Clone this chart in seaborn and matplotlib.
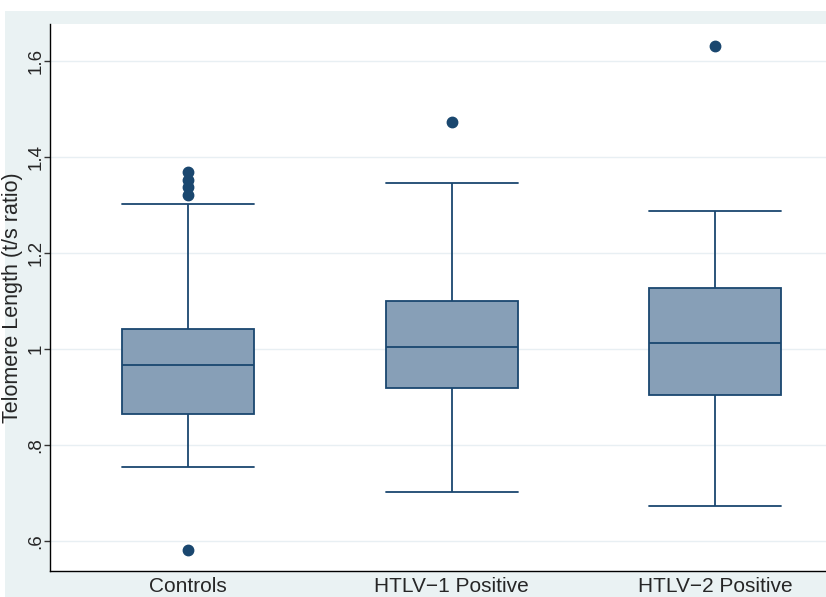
import numpy as np
import pandas as pd
import matplotlib.pyplot as plt
import seaborn as sns
from matplotlib.patches import Rectangle

# Box summaries (t/s ratio)
groups = ['Controls', 'HTLV\u22121 Positive', 'HTLV\u22122 Positive']
lower_whisker = [0.754, 0.702, 0.673]
q1 = [0.865, 0.919, 0.904]
median = [0.967, 1.004, 1.012]
q3 = [1.042, 1.100, 1.127]
upper_whisker = [1.302, 1.346, 1.287]
low_outliers = [[0.581], [], []]
high_outliers = [[1.321, 1.337, 1.352, 1.369], [1.473], [1.631]]

y_ticks = [0.6, 0.8, 1.0, 1.2, 1.4, 1.6]
y_tick_labels = ['.6', '.8', '1', '1.2', '1.4', '1.6']

NAVY = '#1a476f'
FILL = '#879fb7'
BG = '#eaf2f3'


def layout_values(i):
    """Arrange the read values so the box quartiles land on them."""
    low = low_outliers[i] + [lower_whisker[i]]
    high = [upper_whisker[i]] + high_outliers[i]
    k = max(len(low), len(high))
    low = low + [lower_whisker[i]] * (k - len(low))
    high = high + [upper_whisker[i]] * (k - len(high))
    return low + [q1[i]] + [median[i]] * k + [q3[i]] * k + high


rows = []
for i, g in enumerate(groups):
    for v in layout_values(i):
        rows.append({'group': g, 'value': v})
df = pd.DataFrame(rows)

sns.set_style('white')
plt.rcParams['font.family'] = ['Liberation Sans', 'DejaVu Sans']

fig = plt.figure(figsize=(8.26, 5.97), dpi=100, facecolor='white')
fig.patches.append(Rectangle((0.006, 0), 0.994, 1 - 11 / 597, transform=fig.transFigure,
                             facecolor=BG, edgecolor='none', zorder=-10))
left_px = 50
ax = fig.add_axes([left_px / 826, 1 - 571 / 597, 1 - left_px / 826, (571 - 24) / 597])
ax.set_facecolor('white')

lw = 1.3
sns.boxplot(data=df, x='group', y='value', order=groups, ax=ax, width=0.5,
            color=FILL, linewidth=lw, capwidths=0.5,
            boxprops=dict(facecolor=FILL, edgecolor=NAVY, linewidth=lw),
            medianprops=dict(color=NAVY, linewidth=lw),
            whiskerprops=dict(color=NAVY, linewidth=lw),
            capprops=dict(color=NAVY, linewidth=lw),
            flierprops=dict(marker='o', markerfacecolor=NAVY, markeredgecolor=NAVY,
                            markersize=7.5))

ax.set_xlim(-0.524, 2.42)
ax.set_ylim(0.5375, 1.677)
ax.set_yticks(y_ticks)
ax.set_yticklabels(y_tick_labels, rotation=90, va='center', fontsize=13.5)
ax.tick_params(axis='y', length=4, width=1, color='#333333', pad=0, left=True)
ax.tick_params(axis='x', length=0, pad=4.5, labelsize=15)

ax.yaxis.grid(True, color='#e8eff3', linewidth=1)
ax.set_axisbelow(True)

for s in ['top', 'right']:
    ax.spines[s].set_visible(False)
for s in ['left', 'bottom']:
    ax.spines[s].set_color('black')
    ax.spines[s].set_linewidth(1)

ax.set_xlabel('')
ax.set_ylabel('Telomere Length (t/s ratio)', fontsize=15.5)
ax.yaxis.set_label_coords(-0.0345, 0.50)

fig.savefig('out.png', dpi=100, facecolor=fig.get_facecolor())
